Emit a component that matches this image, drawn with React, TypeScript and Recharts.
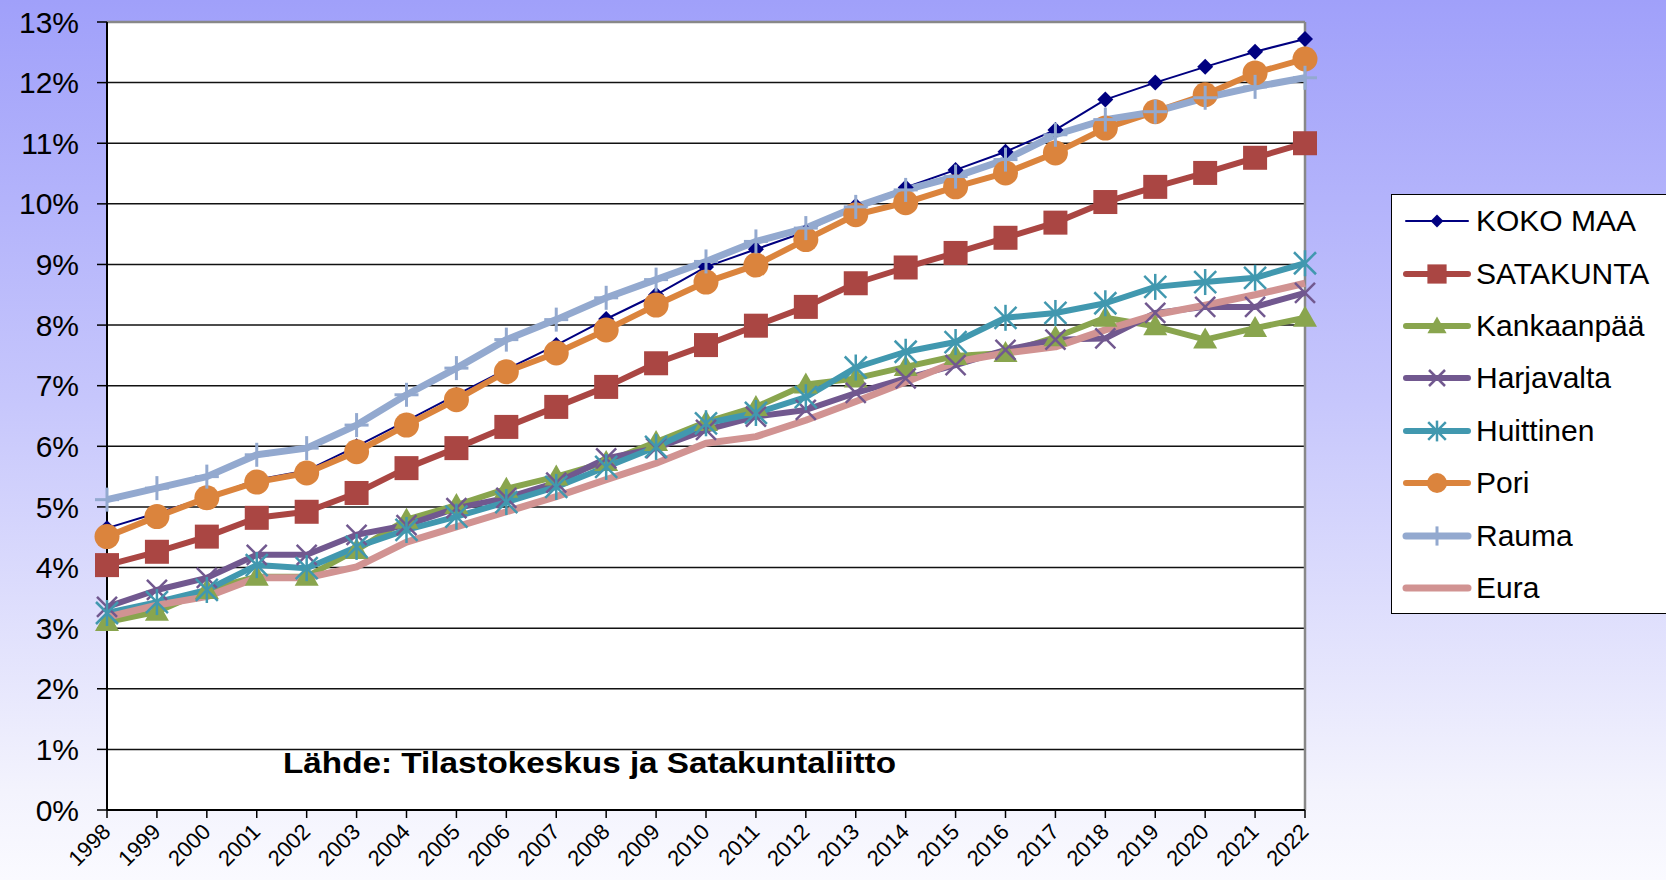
import React from 'react';
import { LineChart, Line, XAxis, YAxis, CartesianGrid, Legend, ReferenceLine } from 'recharts';

const years = [
  '1998', '1999', '2000', '2001', '2002', '2003', '2004', '2005', '2006', '2007', '2008', '2009',
  '2010', '2011', '2012', '2013', '2014', '2015', '2016', '2017', '2018', '2019', '2020', '2021', '2022',
];

const kokoMaa = [4.65, 4.9, 5.15, 5.45, 5.6, 6.0, 6.42, 6.85, 7.27, 7.67, 8.1, 8.5, 8.96, 9.25, 9.54, 9.97, 10.27, 10.56, 10.86, 11.22, 11.72, 12.0, 12.26, 12.51, 12.72];
const satakunta = [4.04, 4.26, 4.51, 4.82, 4.92, 5.23, 5.64, 5.97, 6.32, 6.65, 6.98, 7.37, 7.67, 7.99, 8.3, 8.69, 8.95, 9.19, 9.44, 9.69, 10.03, 10.28, 10.51, 10.76, 11.0];
const kankaanpaa = [3.1, 3.27, 3.63, 3.85, 3.85, 4.29, 4.79, 5.03, 5.3, 5.5, 5.74, 6.07, 6.4, 6.65, 7.02, 7.12, 7.31, 7.49, 7.54, 7.8, 8.12, 7.98, 7.76, 7.95, 8.12];
const harjavalta = [3.35, 3.63, 3.83, 4.21, 4.21, 4.54, 4.7, 4.98, 5.15, 5.4, 5.8, 5.97, 6.27, 6.49, 6.6, 6.88, 7.12, 7.34, 7.59, 7.76, 7.78, 8.2, 8.3, 8.3, 8.53];
const huittinen = [3.25, 3.43, 3.63, 4.04, 3.99, 4.34, 4.62, 4.84, 5.08, 5.33, 5.66, 5.99, 6.38, 6.55, 6.81, 7.3, 7.56, 7.72, 8.12, 8.2, 8.36, 8.63, 8.71, 8.78, 9.02];
const pori = [4.51, 4.84, 5.15, 5.41, 5.56, 5.91, 6.35, 6.77, 7.23, 7.54, 7.92, 8.33, 8.71, 8.99, 9.41, 9.82, 10.02, 10.28, 10.51, 10.84, 11.25, 11.52, 11.8, 12.16, 12.39];
const rauma = [5.12, 5.31, 5.5, 5.86, 5.97, 6.35, 6.85, 7.29, 7.76, 8.09, 8.45, 8.75, 9.05, 9.38, 9.6, 9.95, 10.23, 10.45, 10.73, 11.14, 11.39, 11.52, 11.75, 11.93, 12.08];
const eura = [3.18, 3.38, 3.52, 3.83, 3.83, 4.01, 4.42, 4.67, 4.92, 5.17, 5.45, 5.72, 6.05, 6.16, 6.43, 6.74, 7.06, 7.39, 7.54, 7.64, 7.92, 8.17, 8.33, 8.5, 8.69];

const yTicks = [0, 1, 2, 3, 4, 5, 6, 7, 8, 9, 10, 11, 12, 13];

const FONT = '"Liberation Sans", Arial, sans-serif';

type Marker = 'diamond' | 'square' | 'triangle' | 'x' | 'star' | 'circle' | 'plus' | 'none';

const series: { key: string; name: string; values: number[]; color: string; width: number; marker: Marker }[] = [
  { key: 'koko', name: 'KOKO MAA', values: kokoMaa, color: '#000080', width: 2, marker: 'diamond' },
  { key: 'sata', name: 'SATAKUNTA', values: satakunta, color: '#AA4643', width: 6, marker: 'square' },
  { key: 'kank', name: 'Kankaanpää', values: kankaanpaa, color: '#89A54E', width: 6, marker: 'triangle' },
  { key: 'harj', name: 'Harjavalta', values: harjavalta, color: '#71588F', width: 6, marker: 'x' },
  { key: 'huit', name: 'Huittinen', values: huittinen, color: '#4198AF', width: 6, marker: 'star' },
  { key: 'pori', name: 'Pori', values: pori, color: '#DB843D', width: 6, marker: 'circle' },
  { key: 'rauma', name: 'Rauma', values: rauma, color: '#93A9CF', width: 7, marker: 'plus' },
  { key: 'eura', name: 'Eura', values: eura, color: '#D19392', width: 7, marker: 'none' },
];

const data = years.map((year, i) => {
  const row: { [k: string]: string | number } = { year };
  series.forEach((s) => {
    row[s.key] = s.values[i];
  });
  return row;
});

function drawMarker(type: Marker, cx: number, cy: number, color: string, scale = 1) {
  const s = scale;
  switch (type) {
    case 'diamond':
      return <polygon points={`${cx},${cy - 8 * s} ${cx + 8 * s},${cy} ${cx},${cy + 8 * s} ${cx - 8 * s},${cy}`} fill={color} />;
    case 'square':
      return <rect x={cx - 12 * s} y={cy - 12 * s} width={24 * s} height={24 * s} fill={color} />;
    case 'triangle':
      return <polygon points={`${cx},${cy - 12 * s} ${cx + 12 * s},${cy + 9 * s} ${cx - 12 * s},${cy + 9 * s}`} fill={color} />;
    case 'x':
      return (
        <g stroke={color} strokeWidth={2.5}>
          <line x1={cx - 10 * s} y1={cy - 10 * s} x2={cx + 10 * s} y2={cy + 10 * s} />
          <line x1={cx - 10 * s} y1={cy + 10 * s} x2={cx + 10 * s} y2={cy - 10 * s} />
        </g>
      );
    case 'star':
      return (
        <g stroke={color} strokeWidth={2.5}>
          <line x1={cx - 11 * s} y1={cy - 11 * s} x2={cx + 11 * s} y2={cy + 11 * s} />
          <line x1={cx - 11 * s} y1={cy + 11 * s} x2={cx + 11 * s} y2={cy - 11 * s} />
          <line x1={cx} y1={cy - 13 * s} x2={cx} y2={cy + 13 * s} />
        </g>
      );
    case 'circle':
      return <circle cx={cx} cy={cy} r={12.5 * s} fill={color} />;
    case 'plus':
      return (
        <g stroke={color} strokeWidth={3}>
          <line x1={cx} y1={cy - 12 * s} x2={cx} y2={cy + 12 * s} />
          <line x1={cx - 12 * s} y1={cy} x2={cx + 12 * s} y2={cy} />
        </g>
      );
    default:
      return null;
  }
}

const makeDot = (type: Marker, color: string) => (props: any) => {
  const { cx, cy, index } = props;
  return <g key={`d-${index}`}>{drawMarker(type, cx, cy, color)}</g>;
};

const XTick = (props: any) => {
  const { x, y, payload } = props;
  const tx = x + 5;
  const ty = y + 15;
  return (
    <text x={tx} y={ty} transform={`rotate(-45 ${tx} ${ty})`} textAnchor="end" fontSize={22} fontFamily={FONT} fill="#000">
      {payload.value}
    </text>
  );
};

const renderLegend = () => (
  <div
    style={{
      width: 276,
      height: 420,
      background: '#fff',
      border: '1.5px solid #000',
      boxSizing: 'border-box',
    }}
  >
    {series.map((s) => (
      <div key={s.key} style={{ display: 'flex', alignItems: 'center', height: 52.4 }}>
        <svg width={84} height={30} style={{ flex: 'none' }}>
          <line x1={14} y1={15} x2={76} y2={15} stroke={s.color} strokeWidth={s.width} strokeLinecap="round" />
          {drawMarker(s.marker, 45, 15, s.color, 0.8)}
        </svg>
        <span style={{ fontFamily: FONT, fontSize: 30, color: '#000', lineHeight: '30px' }}>{s.name}</span>
      </div>
    ))}
  </div>
);

export default function App() {
  return (
    <div
      style={{
        position: 'fixed',
        left: 0,
        top: 0,
        width: 1666,
        height: 880,
        background: 'linear-gradient(to bottom, #a0a0fa 0%, #c6c6fc 45%, #f3f3fd 90%, #fafaff 100%)',
      }}
    >
      <LineChart width={1666} height={880} data={data} margin={{ top: 22, right: 361, bottom: 10, left: 17 }}>
        <CartesianGrid vertical={false} stroke="#111" strokeWidth={1.5} fill="#fff" fillOpacity={1} />
        <XAxis
          dataKey="year"
          interval={0}
          height={60}
          tickSize={8}
          tickMargin={0}
          axisLine={{ stroke: '#000', strokeWidth: 2 }}
          tickLine={{ stroke: '#000', strokeWidth: 1.5 }}
          tick={<XTick />}
        />
        <YAxis
          width={90}
          domain={[0, 13]}
          ticks={yTicks}
          interval={0}
          tickFormatter={(v: number) => `${v}%`}
          tickSize={10}
          tickMargin={18}
          axisLine={{ stroke: '#000', strokeWidth: 2 }}
          tickLine={{ stroke: '#000', strokeWidth: 1.5 }}
          tick={{ fontSize: 30, fontFamily: FONT, fill: '#000' }}
        />
        <ReferenceLine y={13} stroke="#888" strokeWidth={2.5} />
        <ReferenceLine x="2022" stroke="#888" strokeWidth={2.5} />
        {series.map((s) => (
          <Line
            key={s.key}
            dataKey={s.key}
            name={s.name}
            stroke={s.color}
            strokeWidth={s.width}
            strokeLinejoin="round"
            dot={s.marker === 'none' ? false : makeDot(s.marker, s.color)}
            activeDot={false}
            isAnimationActive={false}
          />
        ))}
        <Legend
          layout="vertical"
          align="center"
          verticalAlign="middle"
          content={renderLegend}
          wrapperStyle={{ position: 'absolute', left: 1391, top: 194, width: 280, height: 420 }}
        />
      </LineChart>
      <svg width={1666} height={880} style={{ position: 'absolute', left: 0, top: 0, pointerEvents: 'none' }}>
        <text
          x={283}
          y={773}
          fontFamily={FONT}
          fontWeight="bold"
          fontSize={30}
          textLength={613}
          lengthAdjust="spacingAndGlyphs"
          fill="#000"
        >
          Lähde: Tilastokeskus ja Satakuntaliitto
        </text>
      </svg>
    </div>
  );
}
